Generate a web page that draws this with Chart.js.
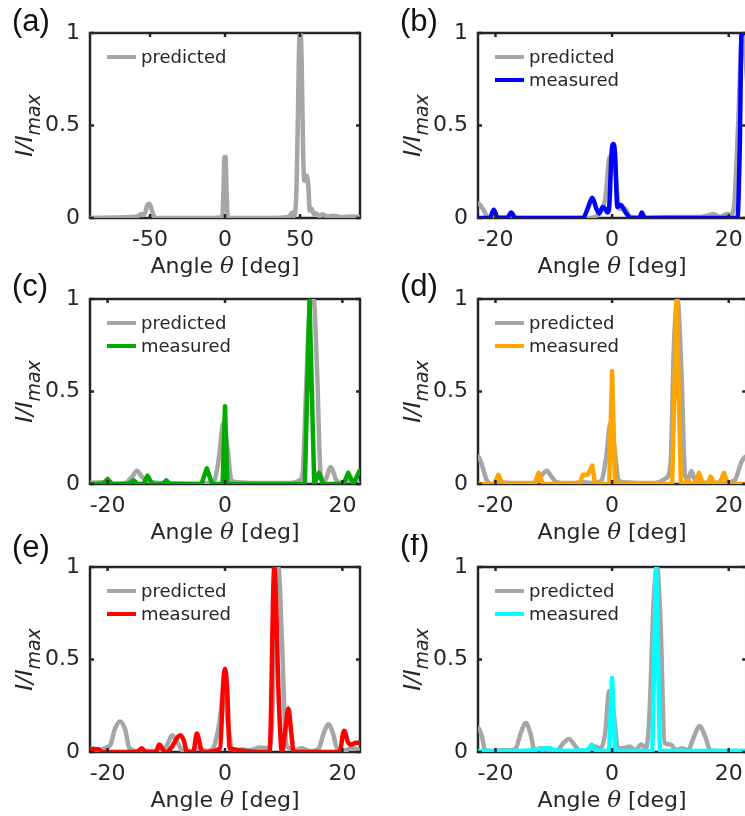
<!DOCTYPE html>
<html lang="en">
<head>
<meta charset="UTF-8">
<title>Far-field intensity vs angle</title>
<script src="https://cdn.jsdelivr.net/npm/chart.js"></script>
<style>
  html, body { margin: 0; padding: 0; background: #fff; width: 745px; height: 816px; overflow: hidden; }
  canvas { position: absolute; }
</style>
</head>
<body>
<canvas id="panelA" width="380" height="290" style="left:0;top:0"></canvas>
<canvas id="panelB" width="380" height="290" style="left:372px;top:0"></canvas>
<canvas id="panelC" width="380" height="290" style="left:0;top:266px"></canvas>
<canvas id="panelD" width="380" height="290" style="left:372px;top:266px"></canvas>
<canvas id="panelE" width="380" height="290" style="left:0;top:534px"></canvas>
<canvas id="panelF" width="380" height="290" style="left:372px;top:534px"></canvas>
<script>
// tick values
const xTicksWide = [-50, 0, 50];
const xTicksNarrow = [-20, 0, 20];
const yTicks = [0, 0.5, 1];

// (a) predicted pattern over the full angular range
const aAngle = [-90, -75, -62, -58, -56, -54.5, -53, -51.8, -50.6, -49.4, -48.2, -47, -45.5, -40, -25, -8, -3, -1.8, -1, -0.4,
  0.4, 1, 1.8, 3, 10, 30, 42, 43.5, 44.7, 45.8, 46.8, 47.8, 48.8, 49.6, 50.4, 51.2, 52.1, 53, 54.3, 55.5,
  56.5, 57.8, 59.2, 61, 63, 65, 68, 72, 78, 84, 90];
const aPredicted = [0, 0.003, 0.005, 0.01, 0.022, 0.015, 0.035, 0.07, 0.077, 0.06, 0.025, 0.006, 0, 0, 0, 0, 0.003, 0.01, 0.15, 0.33,
  0.33, 0.15, 0.01, 0, 0, 0, 0.005, 0.015, 0.03, 0.01, 0.03, 0.2, 0.65, 0.98, 1.0, 0.8, 0.35, 0.2, 0.23, 0.18,
  0.04, 0.05, 0.02, 0.025, 0.01, 0.02, 0.008, 0.012, 0.005, 0.008, 0.005];

// (b)
const bPredAngle = [-23.5, -22.8, -22, -21.2, -19, -15, -5, -3, -2, -1.2, -0.4, 0.4, 1.2, 2.2, 3, 5, 10, 15, 17.5, 18.5,
  19.6, 20.5, 21, 21.6, 22.3, 23.5];
const bPredicted = [0.08, 0.075, 0.04, 0, 0.005, 0, 0, 0.005, 0.04, 0.1, 0.33, 0.3, 0.05, 0.05, 0.01, 0, 0.005, 0.005, 0.02, 0.005,
  0.02, 0.02, 0.1, 0.5, 1.0, 0.6];
const bMeasAngle = [-23.5, -21, -20.3, -19.6, -18, -17.3, -16.6, -5, -4.2, -3.4, -2.7, -2.2, -1.6, -1.2, -0.8, -0.5, -0.1, 0.2, 0.5, 0.9,
  1.5, 2.2, 3.2, 4.7, 5.1, 5.6, 21.5, 21.9, 22.2, 23.5];
const bMeasured = [0, 0, 0.045, 0, 0, 0.03, 0, 0, 0.05, 0.11, 0.05, 0.025, 0.06, 0.05, 0.03, 0.06, 0.35, 0.4, 0.35, 0.06,
  0.07, 0.035, 0, 0, 0.03, 0, 0, 0.4, 1.0, 1.0];

// (c)
const cPredAngle = [-23.5, -21, -20, -17, -15.8, -15, -14.2, -13.3, -12.5, -10, -5, -3, -1.8, -1, -0.3, 0.4, 1.1, 2, 5, 10,
  12, 12.7, 13.2, 13.8, 14.5, 15.1, 15.7, 16.3, 17, 18, 19, 20, 21, 22, 23.5];
const cPredicted = [0.005, 0.01, 0, 0.005, 0.04, 0.072, 0.04, 0.02, 0.01, 0.005, 0, 0.005, 0.02, 0.15, 0.33, 0.2, 0.02, 0.01, 0.005, 0.005,
  0.01, 0.02, 0.05, 0.5, 0.97, 1.0, 0.6, 0.05, 0.02, 0.09, 0.02, 0.005, 0.02, 0.01, 0];
const cMeasAngle = [-23.5, -20.8, -20, -19.2, -16.5, -15.6, -14.8, -13.9, -13.2, -12.4, -10.6, -10, -9.4, -4, -3.1, -2.2, -0.4, 0, 0.4,
  13.6, 14.4, 15.2, 16, 16.7, 20.2, 21, 21.9, 22.9, 23.5];
const cMeasured = [0, 0, 0.027, 0, 0, 0.02, 0, 0, 0.045, 0, 0, 0.02, 0, 0, 0.085, 0, 0, 0.42, 0,
  0, 1.0, 0, 0.06, 0, 0, 0.06, 0, 0.07, 0.07];

// (d)
const dPredAngle = [-23.5, -23, -22.3, -21.5, -20.8, -19, -17, -15, -13, -12, -11.2, -10.4, -9.5, -7, -5, -3, -1.8, -1, -0.3, 0.4,
  1.1, 2, 4, 6, 8, 9.2, 10, 10.6, 11.2, 11.9, 12.5, 13, 13.6, 14.2, 15, 17, 19, 21, 22.2, 23, 23.5];
const dPredicted = [0.15, 0.15, 0.1, 0.02, 0, 0.01, 0.005, 0.005, 0.01, 0.05, 0.072, 0.04, 0.01, 0.005, 0.01, 0.005, 0.02, 0.15, 0.33, 0.2,
  0.02, 0.01, 0.005, 0.005, 0.01, 0.03, 0.1, 0.75, 1.0, 0.6, 0.05, 0.02, 0.07, 0.02, 0.005, 0.01, 0.005, 0.02, 0.12, 0.15, 0.15];
const dMeasAngle = [-23.5, -20.2, -19.5, -18.8, -13.3, -12.6, -11.9, -5.6, -5, -4.2, -3.4, -2.9, -0.5, 0, 0.5, 10.3, 11.05, 11.8, 12.4, 12.9,
  13.5, 14.3, 14.9, 15.6, 16.3, 16.9, 17.6, 18.4, 19.15, 19.9, 23.5];
const dMeasured = [0, 0, 0.05, 0, 0, 0.06, 0, 0, 0.05, 0.05, 0.1, 0, 0, 0.61, 0, 0, 1.0, 0, 0, 0.02,
  0, 0, 0.06, 0, 0, 0.04, 0, 0, 0.06, 0, 0];

// (e)
const ePredAngle = [-23.5, -22.5, -21.5, -20.5, -19.5, -18.8, -17.9, -17, -16.3, -15, -13, -11, -10, -9, -8.2, -7.3, -6, -4.5, -3, -2,
  -1, -0.2, 0.5, 1.2, 2.2, 3, 4, 5, 6, 7.3, 8, 8.6, 9.1, 9.7, 10.4, 11, 12, 13, 14, 15,
  16, 16.8, 17.6, 18.4, 19.1, 20.5, 21.5, 23.5];
const ePredicted = [0.01, 0.02, 0.005, 0.02, 0.04, 0.12, 0.165, 0.12, 0.02, 0.005, 0.005, 0.01, 0.03, 0.09, 0.06, 0.01, 0.005, 0.02, 0.005, 0.02,
  0.15, 0.33, 0.15, 0.02, 0.01, 0.015, 0.01, 0.015, 0.025, 0.02, 0.15, 0.8, 1.0, 0.6, 0.05, 0.02, 0.01, 0.02, 0.01, 0.005,
  0.02, 0.1, 0.15, 0.1, 0.02, 0.01, 0.02, 0.005];
const eMeasAngle = [-23.5, -23, -21.5, -21, -15, -14.2, -13.5, -11.8, -11.2, -10.5, -10, -9, -8.3, -7.6, -7, -6.5, -5.4, -4.8, -4.2, -3.9,
  -0.8, -0.35, 0, 0.35, 0.8, 7.6, 8.4, 9.2, 9.7, 10.2, 10.8, 11.3, 11.7, 19.5, 20.3, 21, 21.6, 22.3, 23, 23.5];
const eMeasured = [0.01, 0.015, 0.015, 0, 0, 0.02, 0, 0, 0.04, 0.01, 0, 0.03, 0.07, 0.09, 0.06, 0, 0, 0.1, 0.03, 0,
  0.02, 0.35, 0.45, 0.35, 0.02, 0, 1.0, 0.25, 0, 0.1, 0.235, 0.1, 0, 0, 0.115, 0.05, 0.04, 0.05, 0.05, 0.03];

// (f)
const fPredAngle = [-23.5, -23, -22.3, -21.8, -20.5, -19, -17.5, -16.5, -15.7, -14.8, -14, -13.3, -12, -11, -9.5, -8.3, -7.4, -6.5, -5.5, -4,
  -3, -2, -1.2, -0.5, 0.3, 1, 2, 3, 4, 5, 5.8, 6.4, 7.1, 7.7, 8.3, 9, 10, 11, 12, 13,
  14, 15, 16, 16.8, 18, 20, 22, 23.5];
const fPredicted = [0.13, 0.13, 0.08, 0.01, 0.005, 0.01, 0.01, 0.02, 0.1, 0.157, 0.1, 0.01, 0.02, 0.01, 0.01, 0.05, 0.07, 0.04, 0.005, 0.01,
  0.03, 0.02, 0.1, 0.33, 0.2, 0.02, 0.02, 0.03, 0.01, 0.04, 0.02, 0.2, 0.8, 1.0, 0.7, 0.05, 0.04, 0.01, 0.02, 0.01,
  0.08, 0.14, 0.08, 0.01, 0.005, 0.005, 0.005, 0.005];
const fMeasAngle = [-23.5, -16, -13.2, -12.5, -12, -11.4, -10.6, -10, -8, -4.2, -3.5, -2.9, -1, -0.5, 0, 0.5, 6.9, 7.55, 8.2, 23.5];
const fMeasured = [0.005, 0.005, 0.01, 0.02, 0.01, 0.02, 0.02, 0.01, 0.005, 0.01, 0.04, 0.01, 0.005, 0.01, 0.4, 0.005, 0.005, 1.0, 0.005, 0.005];

const axisColor = '#262626';
const predColor = '#a6a6a6';
const fontFamily = '"DejaVu Sans", sans-serif';

const panels = [
  { id: 'panelA', tag: '(a)', plotLeft: 90, tagY: 31, span: 90, xTicks: xTicksWide, pred: [aAngle, aPredicted], meas: null },
  { id: 'panelB', tag: '(b)', plotLeft: 106, tagY: 31, span: 23, xTicks: xTicksNarrow, pred: [bPredAngle, bPredicted], meas: [bMeasAngle, bMeasured], color: '#0000ff', smooth: true },
  { id: 'panelC', tag: '(c)', plotLeft: 90, tagY: 30, span: 23, xTicks: xTicksNarrow, pred: [cPredAngle, cPredicted], meas: [cMeasAngle, cMeasured], color: '#00aa00', smooth: false },
  { id: 'panelD', tag: '(d)', plotLeft: 106, tagY: 30, span: 23, xTicks: xTicksNarrow, pred: [dPredAngle, dPredicted], meas: [dMeasAngle, dMeasured], color: '#ffa500', smooth: false },
  { id: 'panelE', tag: '(e)', plotLeft: 90, tagY: 23, span: 23, xTicks: xTicksNarrow, pred: [ePredAngle, ePredicted], meas: [eMeasAngle, eMeasured], color: '#ff0000', smooth: true },
  { id: 'panelF', tag: '(f)', plotLeft: 106, tagY: 21, span: 23, xTicks: xTicksNarrow, pred: [fPredAngle, fPredicted], meas: [fMeasAngle, fMeasured], color: '#00ffff', smooth: false }
];

function toPoints(xs, ys) {
  return xs.map((x, i) => ({ x: x, y: ys[i] }));
}

// box, inward ticks, legend and labels drawn MATLAB-style
const framePlugin = {
  id: 'frame',
  beforeDatasetsDraw(chart) {
    const { ctx, chartArea: a } = chart;
    ctx.save();
    ctx.strokeStyle = axisColor;
    ctx.lineWidth = 2.5;
    ctx.strokeRect(a.left, a.top, a.right - a.left, a.bottom - a.top);
    ctx.restore();
  },
  afterDatasetsDraw(chart) {
    const { ctx, chartArea: a, scales } = chart;
    ctx.save();
    ctx.fillStyle = axisColor;
    scales.x.ticks.forEach(t => {
      const px = scales.x.getPixelForValue(t.value);
      ctx.fillRect(px - 1.25, a.bottom - 4, 2.5, 4);
      ctx.fillRect(px - 1.25, a.top, 2.5, 4);
    });
    scales.y.ticks.forEach(t => {
      const py = scales.y.getPixelForValue(t.value);
      ctx.fillRect(a.left, py - 1.25, 4, 2.5);
      ctx.fillRect(a.right - 4, py - 1.25, 4, 2.5);
    });
    ctx.restore();
  },
  afterDraw(chart, args, opts) {
    const { ctx, chartArea: a } = chart;
    ctx.save();

    // legend in the upper left corner
    const entries = chart.data.datasets.slice().sort((p, q) => q.order - p.order);
    ctx.font = '18px ' + fontFamily;
    ctx.textBaseline = 'middle';
    entries.forEach((ds, i) => {
      const y = a.top + 24 + i * 23;
      ctx.strokeStyle = ds.borderColor;
      ctx.lineWidth = 4;
      ctx.beginPath();
      ctx.moveTo(a.left + 17, y);
      ctx.lineTo(a.left + 46, y);
      ctx.stroke();
      ctx.fillStyle = axisColor;
      ctx.fillText(ds.label, a.left + 51, y + 1);
    });

    // panel tag
    ctx.fillStyle = '#111';
    ctx.font = '31px "Liberation Sans", Arial, sans-serif';
    ctx.textBaseline = 'alphabetic';
    ctx.textAlign = 'left';
    ctx.fillText(opts.tag, a.left - 78, opts.tagY);

    // x axis title with italic theta
    ctx.fillStyle = axisColor;
    const parts = [
      ['Angle ', '22px ' + fontFamily],
      ['\u03b8', 'italic 23px "DejaVu Serif", serif'],
      [' [deg]', '22px ' + fontFamily]
    ];
    let total = 0;
    parts.forEach(p => { ctx.font = p[1]; total += ctx.measureText(p[0]).width; });
    let x = (a.left + a.right) / 2 - total / 2;
    const yBase = a.bottom + 55;
    parts.forEach(p => { ctx.font = p[1]; ctx.fillText(p[0], x, yBase); x += ctx.measureText(p[0]).width; });

    // y axis title I/I_max, rotated
    ctx.translate(a.left - 58, (a.top + a.bottom) / 2);
    ctx.rotate(-Math.PI / 2);
    const main = 'I/I', sub = 'max';
    ctx.font = 'italic 23px ' + fontFamily;
    const wMain = ctx.measureText(main).width;
    ctx.font = 'italic 19px ' + fontFamily;
    const wSub = ctx.measureText(sub).width;
    const start = -(wMain + wSub) / 2;
    ctx.font = 'italic 23px ' + fontFamily;
    ctx.fillText(main, start, 0);
    ctx.font = 'italic 19px ' + fontFamily;
    ctx.fillText(sub, start + wMain, 8);
    ctx.restore();
  }
};

panels.forEach(p => {
  const datasets = [{
    label: 'predicted',
    data: toPoints(p.pred[0], p.pred[1]),
    borderColor: predColor,
    borderWidth: 4.5,
    cubicInterpolationMode: 'monotone',
    order: 2
  }];
  if (p.meas) {
    datasets.push({
      label: 'measured',
      data: toPoints(p.meas[0], p.meas[1]),
      borderColor: p.color,
      borderWidth: 4.5,
      cubicInterpolationMode: p.smooth ? 'monotone' : 'default',
      tension: 0,
      order: 1
    });
  }

  new Chart(document.getElementById(p.id), {
    type: 'line',
    data: { datasets: datasets },
    plugins: [framePlugin],
    options: {
      responsive: false,
      animation: false,
      layout: { autoPadding: false, padding: { top: 33, left: 0, bottom: 0, right: 380 - p.plotLeft - 270 } },
      elements: {
        point: { radius: 0, hoverRadius: 0 },
        line: { borderJoinStyle: 'round', borderCapStyle: 'round' }
      },
      plugins: {
        legend: { display: false },
        tooltip: { enabled: false },
        frame: { tag: p.tag, tagY: p.tagY }
      },
      scales: {
        x: {
          type: 'linear',
          min: -p.span,
          max: p.span,
          afterBuildTicks: s => { s.ticks = p.xTicks.map(v => ({ value: v })); },
          afterFit: s => { s.height = 72; },
          grid: { display: false, drawTicks: false },
          border: { display: false },
          ticks: {
            color: axisColor,
            padding: 9,
            maxRotation: 0,
            font: { family: fontFamily, size: 22 },
            callback: v => String(v)
          }
        },
        y: {
          type: 'linear',
          min: 0,
          max: 1,
          afterBuildTicks: s => { s.ticks = yTicks.map(v => ({ value: v })); },
          afterFit: s => { s.width = p.plotLeft; },
          grid: { display: false, drawTicks: false },
          border: { display: false },
          ticks: {
            color: axisColor,
            padding: 10,
            font: { family: fontFamily, size: 22 },
            callback: v => String(v)
          }
        }
      }
    }
  });
});
</script>
</body>
</html>
